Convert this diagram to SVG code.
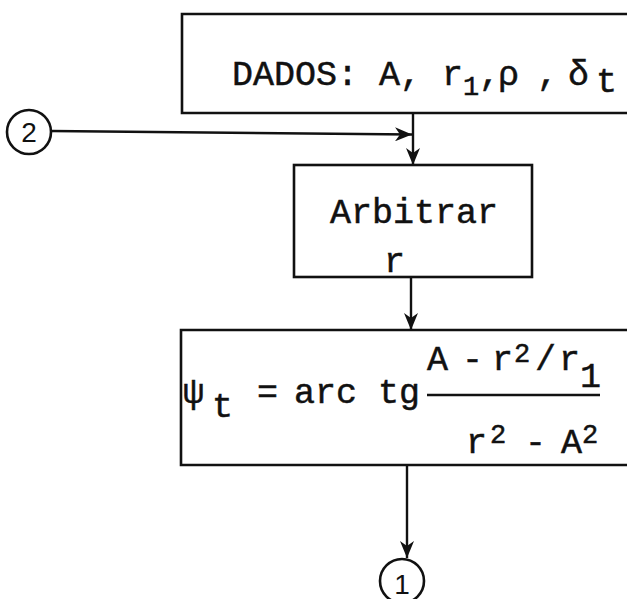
<svg xmlns="http://www.w3.org/2000/svg" width="627" height="599" viewBox="0 0 627 599">
<style>
.box{fill:none;stroke:#111;stroke-width:2.6}
.ln{fill:none;stroke:#111;stroke-width:2.4}
.tt{font-family:"Liberation Mono","DejaVu Sans Mono",monospace;font-size:35px;fill:#111;stroke:#111;stroke-width:0.5}
.sm{font-size:27px}
.cn{font-family:"Liberation Sans","DejaVu Sans",sans-serif;font-size:28px;fill:#111}
</style>
<defs>
<marker id="ah" markerUnits="userSpaceOnUse" markerWidth="18" markerHeight="14" viewBox="0 0 18 14" refX="17" refY="7" orient="auto">
<path d="M0,0 L17,7 L0,14 L5,7 Z" fill="#111"/>
</marker>
</defs>
<rect width="627" height="599" fill="#fff"/>
<g id="connectors">
<path class="ln" d="M51,131 L412,134.5" marker-end="url(#ah)"/>
<path class="ln" d="M413,113 L413,165" marker-end="url(#ah)"/>
<path class="ln" d="M411,277 L411,330" marker-end="url(#ah)"/>
<path class="ln" d="M407,465 L407,558" marker-end="url(#ah)"/>
</g>
<g id="dados">
<path class="box" d="M640,14 L182,14 L182,113 L640,113"/>
<text class="tt"><tspan x="232" y="85">DADOS: A, r</tspan><tspan class="sm" x="463" y="95">1</tspan><tspan x="479" y="85">,</tspan><tspan x="498" y="85">ρ</tspan><tspan x="537" y="85">,</tspan><tspan x="568" y="85">δ</tspan><tspan x="596" y="92">t</tspan></text>
</g>
<g id="conn2">
<circle class="box" cx="29" cy="132" r="22"/>
<text class="cn" x="29" y="142" text-anchor="middle">2</text>
</g>
<g id="arbitrar">
<rect class="box" x="294" y="165" width="238" height="112"/>
<text class="tt" x="330" y="223">Arbitrar</text>
<text class="tt" x="384" y="272">r</text>
</g>
<g id="formula">
<path class="box" d="M640,330 L181,330 L181,465 L640,465"/>
<text class="tt"><tspan x="183" y="403">ψ</tspan><tspan x="212" y="417">t</tspan><tspan x="257" y="403">=</tspan><tspan x="294" y="403">arc tg</tspan></text>
<line class="ln" x1="427" y1="395" x2="600" y2="395"/>
<text class="tt"><tspan x="427" y="370">A</tspan><tspan x="462" y="370">-</tspan><tspan x="492" y="370">r</tspan><tspan class="sm" x="514" y="362">2</tspan><tspan x="535" y="370">/</tspan><tspan x="559" y="370">r</tspan><tspan x="580" y="387">1</tspan></text>
<text class="tt"><tspan x="466" y="453">r</tspan><tspan class="sm" x="490" y="443">2</tspan><tspan x="525" y="453">-</tspan><tspan x="561" y="453">A</tspan><tspan class="sm" x="582" y="443">2</tspan></text>
</g>
<g id="conn1">
<circle class="box" cx="402" cy="581" r="22"/>
<text class="cn" x="402" y="594" text-anchor="middle" font-size="22">1</text>
</g>
</svg>
